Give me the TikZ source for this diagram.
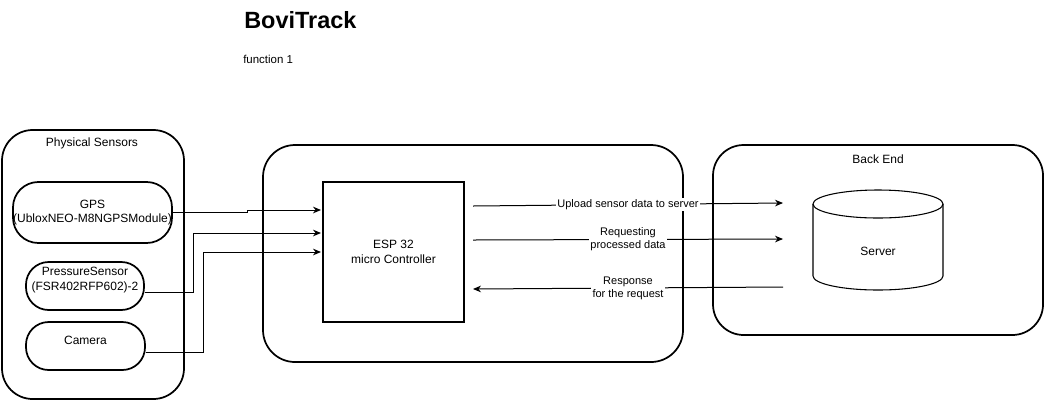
\documentclass[tikz,border=0pt]{standalone}
\usepackage{fontspec}
\setmainfont{Liberation Sans}
\usetikzlibrary{arrows.meta,positioning,calc}

\tikzset{
	group/.style={draw,line width=1.3pt,rounded corners=23pt,inner sep=0pt},
	sensor/.style={draw,line width=1.3pt,rounded corners=17pt,inner sep=0pt},
	link/.style={line width=0.75pt,-{Stealth[length=6pt,width=5pt]}},
	msg/.style={fill=white,inner sep=1pt,font=\fontsize{8.25}{9.75}\selectfont}
}

\begin{document}
\begin{tikzpicture}[x=0.75pt,y=-0.75pt,every node/.style={align=center,font=\fontsize{9}{10.8}\selectfont}]
		\useasboundingbox (0,0) rectangle (1044,401);
		% title
		\node[anchor=base west,inner sep=0pt,font=\fontsize{17.6}{20}\selectfont\bfseries] (title) at (244,28.3) {BoviTrack};
		\node[anchor=base west,inner sep=0pt,font=\fontsize{8.6}{10}\selectfont] (subtitle) at (243,63.3) {function 1};
		% groups
		\node[group,minimum width=136.5pt,minimum height=201.75pt] (sensors) at (93,264.5) {};
		\node (sensorsLbl) at (92,143) {Physical Sensors};
		\node[group,rounded corners=24pt,minimum width=315pt,minimum height=162.75pt] (board) at (473,253.5) {};
		\node[group,minimum width=247.5pt,minimum height=142.5pt] (backend) at (878,240) {};
		\node (backendLbl) at (878,159) {Back End};
		% sensors
		\node[sensor,rounded corners=19pt,minimum width=119.25pt,minimum height=45.75pt] (gps) at (92.5,212.5) {GPS\\(UbloxNEO-M8NGPSModule)};
		\node[sensor,minimum width=88.5pt,minimum height=36pt,text depth=11pt] (pressure) at (85,286) {PressureSensor\\(FSR402RFP602)-2};
		\node[sensor,minimum width=89.25pt,minimum height=36pt,text depth=9pt] (camera) at (85.5,346) {Camera};
		% controller
		\node[draw,line width=0.8pt,minimum width=105.75pt,minimum height=105pt] (esp) at (393.5,252) {ESP 32\\micro Controller};
		% server cylinder
		\draw[line width=0.8pt] (813,204) -- (813,276) arc[start angle=180,end angle=360,x radius=48.75pt,y radius=10.5pt] -- (943,204);
		\draw[line width=0.8pt] (878,204) ellipse [x radius=48.75pt,y radius=10.5pt];
		\node (server) at (878,251) {Server};
		% free ends
		\coordinate (espIn1) at (321,210);
		\coordinate (espIn2) at (321,233);
		\coordinate (espIn3) at (321,252);
		\coordinate (upA) at (473,206);
		\coordinate (upB) at (783,203);
		\coordinate (reqA) at (473,240);
		\coordinate (reqB) at (783,239);
		\coordinate (resA) at (783,287);
		\coordinate (resB) at (473,289);
		% sensor links
		\draw[link] (gps.east) -- (247,212.5) -- (247,210) -- (espIn1);
		\draw[link] ($(pressure.east)+(0,6)$) -| (193,233) -- (espIn2);
		\draw[link] ($(camera.east)+(0,6)$) -| (203,252) -- (espIn3);
		% server links
		\draw[link] (upA) -- node[msg] (upLbl) {Upload sensor data to server} (upB);
		\draw[link] (reqA) -- node[msg] (reqLbl) {Requesting\\processed data} (reqB);
		\draw[link] (resA) -- node[msg] (resLbl) {Response\\for the request} (resB);
	\end{tikzpicture}
\end{document}
